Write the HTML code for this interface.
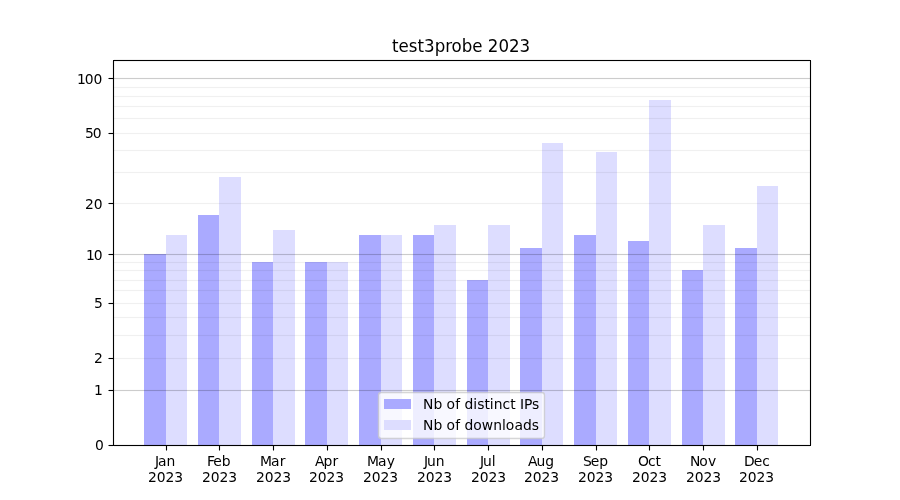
<!DOCTYPE html>
<html lang="en">
<head>
<meta charset="utf-8">
<title>test3probe 2023</title>
<style>
html,body{margin:0;padding:0;background:#fff;}
body{width:900px;height:500px;overflow:hidden;}
svg{display:block;}
text{font-family:"DejaVu Sans", "Liberation Sans", sans-serif;fill:#000;white-space:pre;}
.t{font-size:13.889px;}
.ti{font-size:16.667px;}
.c{shape-rendering:crispEdges;}
</style>
</head>
<body>
<svg width="900" height="500" viewBox="0 0 900 500">
<rect width="900" height="500" fill="#fff"/>
<!-- bars -->
<g class="c">
<rect x="144" y="254" width="22" height="191" fill="#aaf"/><rect x="166" y="235" width="21" height="210" fill="#ddf"/>
<rect x="198" y="215" width="21" height="230" fill="#aaf"/><rect x="219" y="177" width="22" height="268" fill="#ddf"/>
<rect x="252" y="262" width="21" height="183" fill="#aaf"/><rect x="273" y="230" width="22" height="215" fill="#ddf"/>
<rect x="305" y="262" width="22" height="183" fill="#aaf"/><rect x="327" y="262" width="21" height="183" fill="#ddf"/>
<rect x="359" y="235" width="22" height="210" fill="#aaf"/><rect x="381" y="235" width="21" height="210" fill="#ddf"/>
<rect x="413" y="235" width="21" height="210" fill="#aaf"/><rect x="434" y="225" width="22" height="220" fill="#ddf"/>
<rect x="467" y="280" width="21" height="165" fill="#aaf"/><rect x="488" y="225" width="22" height="220" fill="#ddf"/>
<rect x="520" y="248" width="22" height="197" fill="#aaf"/><rect x="542" y="143" width="21" height="302" fill="#ddf"/>
<rect x="574" y="235" width="22" height="210" fill="#aaf"/><rect x="596" y="152" width="21" height="293" fill="#ddf"/>
<rect x="628" y="241" width="21" height="204" fill="#aaf"/><rect x="649" y="100" width="22" height="345" fill="#ddf"/>
<rect x="682" y="270" width="21" height="175" fill="#aaf"/><rect x="703" y="225" width="22" height="220" fill="#ddf"/>
<rect x="735" y="248" width="22" height="197" fill="#aaf"/><rect x="757" y="186" width="21" height="259" fill="#ddf"/>
</g>
<!-- grid -->
<g class="c" fill="#000">
<rect x="114" y="390" width="696" height="1" fill-opacity="0.2"/><rect x="114" y="389" width="696" height="1" fill-opacity="0.012"/><rect x="114" y="391" width="696" height="1" fill-opacity="0.012"/>
<rect x="114" y="254" width="696" height="1" fill-opacity="0.2"/><rect x="114" y="253" width="696" height="1" fill-opacity="0.012"/><rect x="114" y="255" width="696" height="1" fill-opacity="0.012"/>
<rect x="114" y="78" width="696" height="1" fill-opacity="0.2"/><rect x="114" y="77" width="696" height="1" fill-opacity="0.012"/><rect x="114" y="79" width="696" height="1" fill-opacity="0.012"/>
<rect x="114" y="358" width="696" height="1" fill-opacity="0.06"/><rect x="114" y="357" width="696" height="1" fill-opacity="0.004"/><rect x="114" y="359" width="696" height="1" fill-opacity="0.004"/>
<rect x="114" y="335" width="696" height="1" fill-opacity="0.06"/><rect x="114" y="334" width="696" height="1" fill-opacity="0.004"/><rect x="114" y="336" width="696" height="1" fill-opacity="0.004"/>
<rect x="114" y="317" width="696" height="1" fill-opacity="0.06"/><rect x="114" y="316" width="696" height="1" fill-opacity="0.004"/><rect x="114" y="318" width="696" height="1" fill-opacity="0.004"/>
<rect x="114" y="303" width="696" height="1" fill-opacity="0.06"/><rect x="114" y="302" width="696" height="1" fill-opacity="0.004"/><rect x="114" y="304" width="696" height="1" fill-opacity="0.004"/>
<rect x="114" y="290" width="696" height="1" fill-opacity="0.06"/><rect x="114" y="289" width="696" height="1" fill-opacity="0.004"/><rect x="114" y="291" width="696" height="1" fill-opacity="0.004"/>
<rect x="114" y="280" width="696" height="1" fill-opacity="0.06"/><rect x="114" y="279" width="696" height="1" fill-opacity="0.004"/><rect x="114" y="281" width="696" height="1" fill-opacity="0.004"/>
<rect x="114" y="270" width="696" height="1" fill-opacity="0.06"/><rect x="114" y="269" width="696" height="1" fill-opacity="0.004"/><rect x="114" y="271" width="696" height="1" fill-opacity="0.004"/>
<rect x="114" y="262" width="696" height="1" fill-opacity="0.06"/><rect x="114" y="261" width="696" height="1" fill-opacity="0.004"/><rect x="114" y="263" width="696" height="1" fill-opacity="0.004"/>
<rect x="114" y="203" width="696" height="1" fill-opacity="0.06"/><rect x="114" y="202" width="696" height="1" fill-opacity="0.004"/><rect x="114" y="204" width="696" height="1" fill-opacity="0.004"/>
<rect x="114" y="172" width="696" height="1" fill-opacity="0.06"/><rect x="114" y="171" width="696" height="1" fill-opacity="0.004"/><rect x="114" y="173" width="696" height="1" fill-opacity="0.004"/>
<rect x="114" y="150" width="696" height="1" fill-opacity="0.06"/><rect x="114" y="149" width="696" height="1" fill-opacity="0.004"/><rect x="114" y="151" width="696" height="1" fill-opacity="0.004"/>
<rect x="114" y="133" width="696" height="1" fill-opacity="0.06"/><rect x="114" y="132" width="696" height="1" fill-opacity="0.004"/><rect x="114" y="134" width="696" height="1" fill-opacity="0.004"/>
<rect x="114" y="118" width="696" height="1" fill-opacity="0.06"/><rect x="114" y="117" width="696" height="1" fill-opacity="0.004"/><rect x="114" y="119" width="696" height="1" fill-opacity="0.004"/>
<rect x="114" y="106" width="696" height="1" fill-opacity="0.06"/><rect x="114" y="105" width="696" height="1" fill-opacity="0.004"/><rect x="114" y="107" width="696" height="1" fill-opacity="0.004"/>
<rect x="114" y="96" width="696" height="1" fill-opacity="0.06"/><rect x="114" y="95" width="696" height="1" fill-opacity="0.004"/><rect x="114" y="97" width="696" height="1" fill-opacity="0.004"/>
<rect x="114" y="87" width="696" height="1" fill-opacity="0.06"/><rect x="114" y="86" width="696" height="1" fill-opacity="0.004"/><rect x="114" y="88" width="696" height="1" fill-opacity="0.004"/>
</g>
<!-- spines and ticks -->
<g class="c" fill="#000">
<rect x="112" y="61" width="1" height="384" fill-opacity="0.055"/>
<rect x="114" y="61" width="1" height="384" fill-opacity="0.055"/>
<rect x="809" y="61" width="1" height="384" fill-opacity="0.055"/>
<rect x="811" y="61" width="1" height="384" fill-opacity="0.055"/>
<rect x="114" y="59" width="696" height="1" fill-opacity="0.055"/>
<rect x="114" y="61" width="695" height="1" fill-opacity="0.055"/>
<rect x="114" y="444" width="695" height="1" fill-opacity="0.055"/>
<rect x="114" y="446" width="696" height="1" fill-opacity="0.055"/>
<rect x="113" y="60" width="698" height="1"/>
<rect x="113" y="445" width="698" height="1"/>
<rect x="113" y="60" width="1" height="386"/>
<rect x="810" y="60" width="1" height="386"/>
<rect x="109" y="445" width="4" height="1"/><rect x="108" y="445" width="1" height="1" fill-opacity="0.5"/><rect x="109" y="444" width="4" height="1" fill-opacity="0.055"/><rect x="109" y="446" width="4" height="1" fill-opacity="0.055"/>
<rect x="109" y="390" width="4" height="1"/><rect x="108" y="390" width="1" height="1" fill-opacity="0.5"/><rect x="109" y="389" width="4" height="1" fill-opacity="0.055"/><rect x="109" y="391" width="4" height="1" fill-opacity="0.055"/>
<rect x="109" y="358" width="4" height="1"/><rect x="108" y="358" width="1" height="1" fill-opacity="0.5"/><rect x="109" y="357" width="4" height="1" fill-opacity="0.055"/><rect x="109" y="359" width="4" height="1" fill-opacity="0.055"/>
<rect x="109" y="303" width="4" height="1"/><rect x="108" y="303" width="1" height="1" fill-opacity="0.5"/><rect x="109" y="302" width="4" height="1" fill-opacity="0.055"/><rect x="109" y="304" width="4" height="1" fill-opacity="0.055"/>
<rect x="109" y="254" width="4" height="1"/><rect x="108" y="254" width="1" height="1" fill-opacity="0.5"/><rect x="109" y="253" width="4" height="1" fill-opacity="0.055"/><rect x="109" y="255" width="4" height="1" fill-opacity="0.055"/>
<rect x="109" y="203" width="4" height="1"/><rect x="108" y="203" width="1" height="1" fill-opacity="0.5"/><rect x="109" y="202" width="4" height="1" fill-opacity="0.055"/><rect x="109" y="204" width="4" height="1" fill-opacity="0.055"/>
<rect x="109" y="133" width="4" height="1"/><rect x="108" y="133" width="1" height="1" fill-opacity="0.5"/><rect x="109" y="132" width="4" height="1" fill-opacity="0.055"/><rect x="109" y="134" width="4" height="1" fill-opacity="0.055"/>
<rect x="109" y="78" width="4" height="1"/><rect x="108" y="78" width="1" height="1" fill-opacity="0.5"/><rect x="109" y="77" width="4" height="1" fill-opacity="0.055"/><rect x="109" y="79" width="4" height="1" fill-opacity="0.055"/>
<rect x="166" y="446" width="1" height="4"/><rect x="166" y="450" width="1" height="1" fill-opacity="0.5"/><rect x="165" y="446" width="1" height="4" fill-opacity="0.055"/><rect x="167" y="446" width="1" height="4" fill-opacity="0.055"/>
<rect x="219" y="446" width="1" height="4"/><rect x="219" y="450" width="1" height="1" fill-opacity="0.5"/><rect x="218" y="446" width="1" height="4" fill-opacity="0.055"/><rect x="220" y="446" width="1" height="4" fill-opacity="0.055"/>
<rect x="273" y="446" width="1" height="4"/><rect x="273" y="450" width="1" height="1" fill-opacity="0.5"/><rect x="272" y="446" width="1" height="4" fill-opacity="0.055"/><rect x="274" y="446" width="1" height="4" fill-opacity="0.055"/>
<rect x="327" y="446" width="1" height="4"/><rect x="327" y="450" width="1" height="1" fill-opacity="0.5"/><rect x="326" y="446" width="1" height="4" fill-opacity="0.055"/><rect x="328" y="446" width="1" height="4" fill-opacity="0.055"/>
<rect x="381" y="446" width="1" height="4"/><rect x="381" y="450" width="1" height="1" fill-opacity="0.5"/><rect x="380" y="446" width="1" height="4" fill-opacity="0.055"/><rect x="382" y="446" width="1" height="4" fill-opacity="0.055"/>
<rect x="434" y="446" width="1" height="4"/><rect x="434" y="450" width="1" height="1" fill-opacity="0.5"/><rect x="433" y="446" width="1" height="4" fill-opacity="0.055"/><rect x="435" y="446" width="1" height="4" fill-opacity="0.055"/>
<rect x="488" y="446" width="1" height="4"/><rect x="488" y="450" width="1" height="1" fill-opacity="0.5"/><rect x="487" y="446" width="1" height="4" fill-opacity="0.055"/><rect x="489" y="446" width="1" height="4" fill-opacity="0.055"/>
<rect x="542" y="446" width="1" height="4"/><rect x="542" y="450" width="1" height="1" fill-opacity="0.5"/><rect x="541" y="446" width="1" height="4" fill-opacity="0.055"/><rect x="543" y="446" width="1" height="4" fill-opacity="0.055"/>
<rect x="596" y="446" width="1" height="4"/><rect x="596" y="450" width="1" height="1" fill-opacity="0.5"/><rect x="595" y="446" width="1" height="4" fill-opacity="0.055"/><rect x="597" y="446" width="1" height="4" fill-opacity="0.055"/>
<rect x="649" y="446" width="1" height="4"/><rect x="649" y="450" width="1" height="1" fill-opacity="0.5"/><rect x="648" y="446" width="1" height="4" fill-opacity="0.055"/><rect x="650" y="446" width="1" height="4" fill-opacity="0.055"/>
<rect x="703" y="446" width="1" height="4"/><rect x="703" y="450" width="1" height="1" fill-opacity="0.5"/><rect x="702" y="446" width="1" height="4" fill-opacity="0.055"/><rect x="704" y="446" width="1" height="4" fill-opacity="0.055"/>
<rect x="757" y="446" width="1" height="4"/><rect x="757" y="450" width="1" height="1" fill-opacity="0.5"/><rect x="756" y="446" width="1" height="4" fill-opacity="0.055"/><rect x="758" y="446" width="1" height="4" fill-opacity="0.055"/>
</g>
<!-- x tick labels -->
<text class="t" x="154.88 158.083 166.598" y="466">Jan</text>
<text class="t" x="147.914 156.726 165.554 174.133" y="482">2023</text>
<text class="t" x="206.896 213.24 221.771" y="466">Feb</text>
<text class="t" x="201.904 210.716 219.544 228.372" y="482">2023</text>
<text class="t" x="259.956 270.925 279.675" y="466">Mar</text>
<text class="t" x="255.894 264.706 273.534 282.362" y="482">2023</text>
<text class="t" x="314.902 323.387 332.449" y="466">Apr</text>
<text class="t" x="308.999 317.686 326.514 335.342" y="482">2023</text>
<text class="t" x="366.926 377.895 386.645" y="466">May</text>
<text class="t" x="362.989 371.676 380.504 389.332" y="482">2023</text>
<text class="t" x="423.916 426.994 435.791" y="466">Jun</text>
<text class="t" x="416.974 425.786 434.614 443.193" y="482">2023</text>
<text class="t" x="479.995 483.073 491.87" y="466">Jul</text>
<text class="t" x="470.964 479.776 488.604 497.182" y="482">2023</text>
<text class="t" x="527.933 536.417 545.214" y="466">Aug</text>
<text class="t" x="523.944 532.756 541.584 550.162" y="482">2023</text>
<text class="t" x="582.892 590.689 599.236" y="466">Sep</text>
<text class="t" x="577.934 586.746 595.574 604.153" y="482">2023</text>
<text class="t" x="637.95 648.106 655.497" y="466">Oct</text>
<text class="t" x="631.924 640.736 649.564 658.143" y="482">2023</text>
<text class="t" x="689.893 699.143 708.003" y="466">Nov</text>
<text class="t" x="685.904 694.716 703.544 712.372" y="482">2023</text>
<text class="t" x="743.875 753.672 762.219" y="466">Dec</text>
<text class="t" x="738.894 747.706 756.534 765.362" y="482">2023</text>
<!-- y tick labels -->
<text class="t" x="94.952" y="450">0</text>
<text class="t" x="93.952" y="395">1</text>
<text class="t" x="93.952" y="363">2</text>
<text class="t" x="93.952" y="308">5</text>
<text class="t" x="85.879 93.691" y="260">10</text>
<text class="t" x="85.004 93.816" y="209">20</text>
<text class="t" x="84.879 92.816" y="138">50</text>
<text class="t" x="76.926 84.738 93.566" y="84">100</text>
<!-- title -->
<text class="ti" transform="translate(0 52) scale(1 1.085)" x="391.963 398.492 408.735 417.406 423.936 434.648 445.221 451.581 461.764 472.337 482.58 487.881 498.469 509.072 519.409" y="0">test3probe 2023</text>
<!-- legend -->
<rect x="378.5" y="392.5" width="166" height="46" rx="2.78" ry="2.78" fill="#fff" stroke="#ccc" stroke-width="1.39" opacity="0.8"/>
<g class="c">
<rect x="384" y="399" width="27" height="10" fill="#aaf"/>
<rect x="384" y="420" width="27" height="10" fill="#ddf"/>
</g>
<text class="t" x="423.12 433.495 442.292 446.464 455.198 460.089 464.495 473.307 477.151 484.386 489.823 493.682 502.479 510.229 515.542 519.948 524.042 531.917" y="409">Nb of distinct IPs</text>
<text class="t" x="423.12 433.495 442.292 446.464 455.198 460.089 464.495 473.307 481.792 493.136 501.932 505.792 514.401 522.901 531.714" y="430">Nb of downloads</text>
</svg>
</body>
</html>
